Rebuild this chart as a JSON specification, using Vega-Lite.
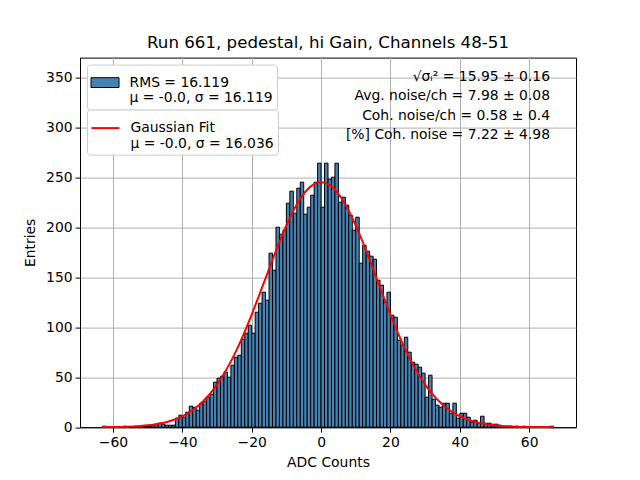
{
  "$schema": "https://vega.github.io/schema/vega-lite/v6.json",
  "width": 496,
  "height": 369.6,
  "autosize": {"type": "none"},
  "padding": {"left": 80, "top": 57.6, "right": 64, "bottom": 52.8},
  "background": "white",
  "title": {"text": "Run 661, pedestal, hi Gain, Channels 48-51", "fontSize": 16.67, "fontWeight": "normal", "color": "black", "anchor": "middle", "offset": 6},
  "config": {
    "font": "DejaVu Sans",
    "view": {"stroke": "black", "strokeWidth": 1},
    "axis": {
      "zindex": 1,
      "domainColor": "black",
      "tickColor": "black",
      "tickSize": 4.9,
      "tickWidth": 1,
      "labelFontSize": 13.9,
      "labelColor": "black",
      "labelPadding": 3,
      "titleFontSize": 13.9,
      "titleFontWeight": "normal",
      "titleColor": "black",
      "gridColor": "#b0b0b0",
      "gridWidth": 1,
      "grid": true
    },
    "legend": {
      "orient": "top-left",
      "offset": 7,
      "padding": 3.5,
      "fillColor": "white",
      "strokeColor": "#cccccc",
      "cornerRadius": 3,
      "symbolSize": 784,
      "labelFontSize": 13.9,
      "labelColor": "black",
      "labelOffset": 10,
      "labelLimit": 400,
      "rowPadding": 5,
      "layout": {"top-left": {"direction": "vertical", "margin": -1, "anchor": "start"}}
    }
  },
  "datasets": {
    "bins": [
      {"a": -63, "b": -62, "n": 1}, {"a": -62, "b": -61, "n": 0}, {"a": -61, "b": -60, "n": 0}, {"a": -60, "b": -59, "n": 0},
      {"a": -59, "b": -58, "n": 0}, {"a": -58, "b": -57, "n": 0}, {"a": -57, "b": -56, "n": 1}, {"a": -56, "b": -55, "n": 0},
      {"a": -55, "b": -54, "n": 0}, {"a": -54, "b": -53, "n": 1}, {"a": -53, "b": -52, "n": 0}, {"a": -52, "b": -51, "n": 1},
      {"a": -51, "b": -50, "n": 1}, {"a": -50, "b": -49, "n": 1}, {"a": -49, "b": -48, "n": 2}, {"a": -48, "b": -47, "n": 3},
      {"a": -47, "b": -46, "n": 4}, {"a": -46, "b": -45, "n": 3}, {"a": -45, "b": -44, "n": 2}, {"a": -44, "b": -43, "n": 2},
      {"a": -43, "b": -42, "n": 2}, {"a": -42, "b": -41, "n": 9}, {"a": -41, "b": -40, "n": 12}, {"a": -40, "b": -39, "n": 10},
      {"a": -39, "b": -38, "n": 15}, {"a": -38, "b": -37, "n": 21}, {"a": -37, "b": -36, "n": 20}, {"a": -36, "b": -35, "n": 17},
      {"a": -35, "b": -34, "n": 24}, {"a": -34, "b": -33, "n": 26}, {"a": -33, "b": -32, "n": 30}, {"a": -32, "b": -31, "n": 33},
      {"a": -31, "b": -30, "n": 45}, {"a": -30, "b": -29, "n": 49}, {"a": -29, "b": -28, "n": 51}, {"a": -28, "b": -27, "n": 55},
      {"a": -27, "b": -26, "n": 50}, {"a": -26, "b": -25, "n": 62}, {"a": -25, "b": -24, "n": 70}, {"a": -24, "b": -23, "n": 72},
      {"a": -23, "b": -22, "n": 88}, {"a": -22, "b": -21, "n": 94}, {"a": -21, "b": -20, "n": 102}, {"a": -20, "b": -19, "n": 94},
      {"a": -19, "b": -18, "n": 115}, {"a": -18, "b": -17, "n": 124}, {"a": -17, "b": -16, "n": 135}, {"a": -16, "b": -15, "n": 127},
      {"a": -15, "b": -14, "n": 174}, {"a": -14, "b": -13, "n": 157}, {"a": -13, "b": -12, "n": 200}, {"a": -12, "b": -11, "n": 193},
      {"a": -11, "b": -10, "n": 197}, {"a": -10, "b": -9, "n": 224}, {"a": -9, "b": -8, "n": 236}, {"a": -8, "b": -7, "n": 214},
      {"a": -7, "b": -6, "n": 239}, {"a": -6, "b": -5, "n": 245}, {"a": -5, "b": -4, "n": 213}, {"a": -4, "b": -3, "n": 220},
      {"a": -3, "b": -2, "n": 232}, {"a": -2, "b": -1, "n": 245}, {"a": -1, "b": 0, "n": 264}, {"a": 0, "b": 1, "n": 220},
      {"a": 1, "b": 2, "n": 264}, {"a": 2, "b": 3, "n": 248}, {"a": 3, "b": 4, "n": 250}, {"a": 4, "b": 5, "n": 264},
      {"a": 5, "b": 6, "n": 225}, {"a": 6, "b": 7, "n": 230}, {"a": 7, "b": 8, "n": 222}, {"a": 8, "b": 9, "n": 212},
      {"a": 9, "b": 10, "n": 197}, {"a": 10, "b": 11, "n": 210}, {"a": 11, "b": 12, "n": 164}, {"a": 12, "b": 13, "n": 182},
      {"a": 13, "b": 14, "n": 176}, {"a": 14, "b": 15, "n": 171}, {"a": 15, "b": 16, "n": 168}, {"a": 16, "b": 17, "n": 147},
      {"a": 17, "b": 18, "n": 142}, {"a": 18, "b": 19, "n": 125}, {"a": 19, "b": 20, "n": 135}, {"a": 20, "b": 21, "n": 112},
      {"a": 21, "b": 22, "n": 110}, {"a": 22, "b": 23, "n": 87}, {"a": 23, "b": 24, "n": 82}, {"a": 24, "b": 25, "n": 90},
      {"a": 25, "b": 26, "n": 75}, {"a": 26, "b": 27, "n": 65}, {"a": 27, "b": 28, "n": 63}, {"a": 28, "b": 29, "n": 60},
      {"a": 29, "b": 30, "n": 54}, {"a": 30, "b": 31, "n": 30}, {"a": 31, "b": 32, "n": 52}, {"a": 32, "b": 33, "n": 28},
      {"a": 33, "b": 34, "n": 22}, {"a": 34, "b": 35, "n": 20}, {"a": 35, "b": 36, "n": 24}, {"a": 36, "b": 37, "n": 24},
      {"a": 37, "b": 38, "n": 14}, {"a": 38, "b": 39, "n": 24}, {"a": 39, "b": 40, "n": 9}, {"a": 40, "b": 41, "n": 14},
      {"a": 41, "b": 42, "n": 14}, {"a": 42, "b": 43, "n": 10}, {"a": 43, "b": 44, "n": 5}, {"a": 44, "b": 45, "n": 7},
      {"a": 45, "b": 46, "n": 4}, {"a": 46, "b": 47, "n": 11}, {"a": 47, "b": 48, "n": 4}, {"a": 48, "b": 49, "n": 4},
      {"a": 49, "b": 50, "n": 3}, {"a": 50, "b": 51, "n": 3}, {"a": 51, "b": 52, "n": 2}, {"a": 52, "b": 53, "n": 1},
      {"a": 53, "b": 54, "n": 1}, {"a": 54, "b": 55, "n": 1}, {"a": 55, "b": 56, "n": 0}, {"a": 56, "b": 57, "n": 1},
      {"a": 57, "b": 58, "n": 0}, {"a": 58, "b": 59, "n": 1}, {"a": 59, "b": 60, "n": 0}, {"a": 60, "b": 61, "n": 0},
      {"a": 61, "b": 62, "n": 0}, {"a": 62, "b": 63, "n": 0}, {"a": 63, "b": 64, "n": 0}, {"a": 64, "b": 65, "n": 0},
      {"a": 65, "b": 66, "n": 0}, {"a": 66, "b": 67, "n": 1}
    ],
    "fit": [
      {"x": -63, "y": 0.11}, {"x": -60, "y": 0.22}, {"x": -56, "y": 0.55}, {"x": -52, "y": 1.28}, {"x": -50, "y": 1.9},
      {"x": -48, "y": 2.8}, {"x": -46, "y": 4.0}, {"x": -44, "y": 5.7}, {"x": -42, "y": 7.9}, {"x": -40, "y": 10.9},
      {"x": -38, "y": 14.8}, {"x": -36, "y": 19.7}, {"x": -34, "y": 25.9}, {"x": -32, "y": 33.5}, {"x": -30, "y": 42.6},
      {"x": -28, "y": 53.4}, {"x": -26, "y": 65.8}, {"x": -24, "y": 79.9}, {"x": -22, "y": 95.6}, {"x": -20, "y": 112.6},
      {"x": -18, "y": 130.5}, {"x": -16, "y": 148.9}, {"x": -14, "y": 167.4}, {"x": -12, "y": 185.2}, {"x": -10, "y": 201.7},
      {"x": -8, "y": 216.3}, {"x": -6, "y": 228.4}, {"x": -4, "y": 237.5}, {"x": -2, "y": 243.1}, {"x": 0, "y": 245.0},
      {"x": 2, "y": 243.1}, {"x": 4, "y": 237.5}, {"x": 6, "y": 228.4}, {"x": 8, "y": 216.3}, {"x": 10, "y": 201.7},
      {"x": 12, "y": 185.2}, {"x": 14, "y": 167.4}, {"x": 16, "y": 148.9}, {"x": 18, "y": 130.5}, {"x": 20, "y": 112.6},
      {"x": 22, "y": 95.6}, {"x": 24, "y": 79.9}, {"x": 26, "y": 65.8}, {"x": 28, "y": 53.4}, {"x": 30, "y": 42.6},
      {"x": 32, "y": 33.5}, {"x": 34, "y": 25.9}, {"x": 36, "y": 19.7}, {"x": 38, "y": 14.8}, {"x": 40, "y": 10.9},
      {"x": 42, "y": 7.9}, {"x": 44, "y": 5.7}, {"x": 46, "y": 4.0}, {"x": 48, "y": 2.8}, {"x": 50, "y": 1.9},
      {"x": 52, "y": 1.28}, {"x": 56, "y": 0.55}, {"x": 60, "y": 0.22}, {"x": 64, "y": 0.09}, {"x": 67, "y": 0.04}
    ],
    "note": [{"k": "stats"}]
  },
  "layer": [
    {
      "data": {"name": "bins"},
      "mark": {"type": "bar", "stroke": "black", "strokeWidth": 1},
      "encoding": {
        "x": {
          "field": "a", "type": "quantitative", "title": "ADC Counts",
          "scale": {"domain": [-69.5, 73.5], "nice": false, "zero": false},
          "axis": {"values": [-60, -40, -20, 0, 20, 40, 60], "labelExpr": "replace(datum.label, '-', '−')", "titlePadding": 6}
        },
        "x2": {"field": "b"},
        "y": {
          "field": "n", "type": "quantitative", "title": "Entries",
          "scale": {"domain": [0, 369.6], "nice": false},
          "axis": {"values": [0, 50, 100, 150, 200, 250, 300, 350], "titlePadding": 8}
        },
        "y2": {"datum": 0},
        "fill": {
          "datum": "hist", "type": "nominal",
          "scale": {"domain": ["hist"], "range": ["#4682b4"]},
          "legend": {
            "title": null,
            "symbolType": "M-1,-0.35L1,-0.35L1,0.35L-1,0.35Z",
            "symbolStrokeColor": "black",
            "symbolStrokeWidth": 1,
            "labelExpr": "['RMS = 16.119', 'μ = -0.0, σ = 16.119']",
            "encode": {"labels": {"lineHeight": {"value": 18}}}
          }
        }
      }
    },
    {
      "data": {"name": "fit"},
      "mark": {"type": "line", "strokeWidth": 2, "interpolate": "monotone"},
      "encoding": {
        "x": {"field": "x", "type": "quantitative"},
        "y": {"field": "y", "type": "quantitative"},
        "stroke": {
          "datum": "fit", "type": "nominal",
          "scale": {"domain": ["fit"], "range": ["#ff0000"]},
          "legend": {
            "title": null,
            "symbolType": "stroke",
            "symbolStrokeWidth": 2,
            "labelExpr": "['Gaussian Fit', 'μ = -0.0, σ = 16.036']",
            "encode": {"labels": {"lineHeight": {"value": 18}}}
          }
        }
      }
    },
    {
      "data": {"name": "note"},
      "mark": {
        "type": "text",
        "text": ["√σᵢ² = 15.95 ± 0.16", "Avg. noise/ch = 7.98 ± 0.08", "Coh. noise/ch = 0.58 ± 0.4", "[%] Coh. noise = 7.22 ± 4.98"],
        "align": "right", "baseline": "top", "fontSize": 13.9, "lineHeight": 19.5, "color": "black"
      },
      "encoding": {
        "x": {"datum": 66.0, "type": "quantitative"},
        "y": {"datum": 357.5, "type": "quantitative"}
      }
    }
  ]
}
